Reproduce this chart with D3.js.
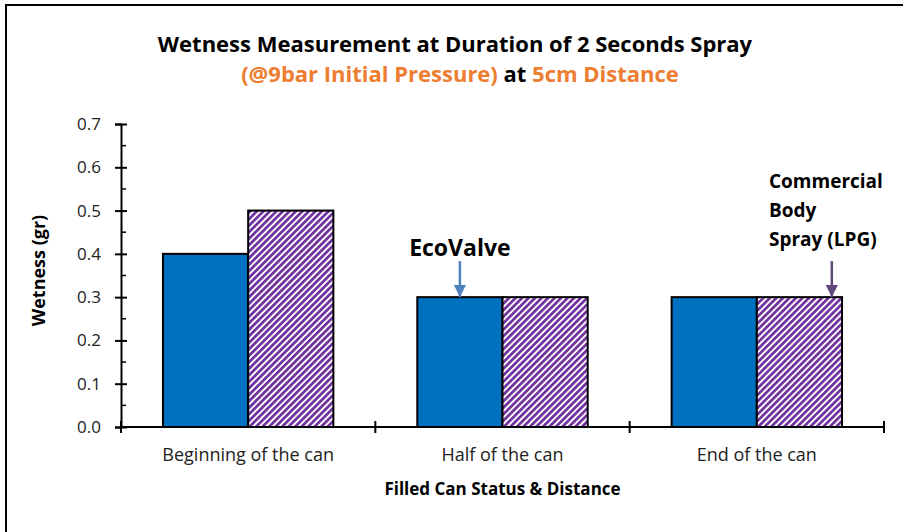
<!DOCTYPE html>
<html>
<head>
<meta charset="utf-8">
<script src="https://cdn.jsdelivr.net/npm/d3@7"></script>
<style>
  body { margin: 0; background: #fff; }
  svg text { font-family: "Open Sans", sans-serif; }
</style>
</head>
<body>
<div id="chart"></div>
<script>
// chart data
const categories = ["Beginning of the can", "Half of the can", "End of the can"]
const seriesNames = ["EcoValve", "Commercial Body Spray (LPG)"]
const ecoValve = [0.4, 0.3, 0.3]
const commercial = [0.5, 0.3, 0.3]
const yTicks = [0, 0.1, 0.2, 0.3, 0.4, 0.5, 0.6, 0.7]

const width = 903
const height = 532
const margin = {top: 124, right: 19, bottom: 105, left: 121}
const plotW = width - margin.left - margin.right
const plotH = height - margin.top - margin.bottom

const blue = "#0070C0"
const purple = "#7030A0"
const orange = "#ED7D31"

const svg = d3.select("#chart").append("svg")
    .attr("width", width)
    .attr("height", height)

// stripes for the commercial bars
const pat = svg.append("defs").append("pattern")
    .attr("id", "stripes")
    .attr("patternUnits", "userSpaceOnUse")
    .attr("width", 4.6)
    .attr("height", 4.6)
    .attr("patternTransform", "rotate(45)")
pat.append("rect").attr("width", 4.6).attr("height", 4.6).attr("fill", "#fff")
pat.append("rect").attr("width", 2.7).attr("height", 4.6).attr("fill", purple)

// outer frame
svg.append("rect")
    .attr("x", 6).attr("y", 5)
    .attr("width", width + 10).attr("height", height + 10)
    .attr("fill", "none")
    .attr("stroke", "#000")
    .attr("stroke-width", 2)

// title
svg.append("text")
    .attr("x", 455).attr("y", 52)
    .attr("text-anchor", "middle")
    .attr("font-size", 22)
    .attr("font-weight", "bold")
    .text("Wetness Measurement at Duration of 2 Seconds Spray")
const sub = svg.append("text")
    .attr("x", 460).attr("y", 82)
    .attr("text-anchor", "middle")
    .attr("font-size", 22)
    .attr("font-weight", "bold")
sub.append("tspan").attr("fill", orange).text("(@9bar Initial Pressure)")
sub.append("tspan").attr("fill", "#000").text(" at ")
sub.append("tspan").attr("fill", orange).text("5cm Distance")

const g = svg.append("g")
    .attr("transform", "translate(" + margin.left + "," + margin.top + ")")

const x0 = d3.scaleBand()
    .domain(categories)
    .range([0, plotW])
const inner = x0.bandwidth() * 0.165
const x1 = d3.scaleBand()
    .domain(seriesNames)
    .range([inner, x0.bandwidth() - inner])
const y = d3.scaleLinear()
    .domain([0, 0.7])
    .range([plotH, 0])

// bars
const rows = categories.map((c, i) => ({cat: c, values: [ecoValve[i], commercial[i]]}))
const groups = g.selectAll("g.grp")
    .data(rows)
    .enter()
    .append("g")
    .attr("class", "grp")
    .attr("transform", d => "translate(" + x0(d.cat) + ",0)")
groups.selectAll("rect")
    .data(d => d.values.map((v, j) => ({name: seriesNames[j], v: v})))
    .enter()
    .append("rect")
    .attr("x", d => x1(d.name))
    .attr("y", d => y(d.v))
    .attr("width", x1.bandwidth())
    .attr("height", d => plotH - y(d.v))
    .attr("fill", (d, j) => j === 0 ? blue : "url(#stripes)")
    .attr("stroke", "#000")
    .attr("stroke-width", 2)

// y axis: major ticks crossing the line, minor ticks inside
const yAxis = g.append("g")
    .call(d3.axisLeft(y).tickValues(yTicks).tickFormat(d3.format(".1f")).tickSize(6).tickPadding(14))
yAxis.select(".domain").attr("stroke", "#000").attr("stroke-width", 2)
yAxis.selectAll(".tick line").attr("x2", -6).attr("x1", 6).attr("stroke-width", 2)
yAxis.selectAll(".tick text")
    .attr("font-size", 17)
    .attr("fill", "#222")
g.append("g").selectAll("line")
    .data(d3.range(0.05, 0.7, 0.1))
    .enter()
    .append("line")
    .attr("x1", 0).attr("x2", 5)
    .attr("y1", d => y(d)).attr("y2", d => y(d))
    .attr("stroke", "#000").attr("stroke-width", 1.5)

// x axis with ticks at group boundaries
const xAxis = g.append("g")
    .attr("transform", "translate(0," + plotH + ")")
xAxis.append("line")
    .attr("x1", 0).attr("x2", plotW)
    .attr("stroke", "#000").attr("stroke-width", 2)
const bounds = categories.map(c => x0(c)).concat([plotW])
xAxis.selectAll("line.tk")
    .data(bounds)
    .enter()
    .append("line")
    .attr("class", "tk")
    .attr("x1", d => d).attr("x2", d => d)
    .attr("y1", -6).attr("y2", 6)
    .attr("stroke", "#000").attr("stroke-width", 2)
xAxis.selectAll("text")
    .data(categories)
    .enter()
    .append("text")
    .attr("x", d => x0(d) + x0.bandwidth() / 2)
    .attr("y", 34)
    .attr("text-anchor", "middle")
    .attr("font-size", 18)
    .attr("fill", "#222")
    .text(d => d)

// axis titles
svg.append("text")
    .attr("x", margin.left + plotW / 2).attr("y", 495)
    .attr("text-anchor", "middle")
    .attr("font-size", 17)
    .attr("font-weight", "bold")
    .text("Filled Can Status & Distance")
svg.append("text")
    .attr("transform", "translate(45," + (margin.top + plotH / 2 - 5) + ") rotate(-90)")
    .attr("text-anchor", "middle")
    .attr("font-size", 18)
    .attr("font-weight", "bold")
    .text("Wetness (gr)")

// annotations with arrows
const defs = svg.select("defs")
function marker(id, color) {
    defs.append("marker")
        .attr("id", id)
        .attr("viewBox", "0 0 10 10")
        .attr("refX", 10).attr("refY", 5)
        .attr("markerWidth", 5).attr("markerHeight", 5)
        .attr("markerUnits", "strokeWidth")
        .attr("orient", "auto")
        .append("path")
        .attr("d", "M0,0L10,5L0,10Z")
        .attr("fill", color)
}
marker("arrBlue", "#4F81BD")
marker("arrPurple", "#5F497A")

const ecoX = margin.left + x0(categories[1]) + x1(seriesNames[0]) + x1.bandwidth() / 2
const ecoY = margin.top + y(ecoValve[1])
svg.append("line")
    .attr("x1", ecoX).attr("x2", ecoX)
    .attr("y1", ecoY - 36).attr("y2", ecoY)
    .attr("stroke", "#4F81BD").attr("stroke-width", 2.5)
    .attr("marker-end", "url(#arrBlue)")
svg.append("text")
    .attr("x", ecoX).attr("y", ecoY - 41)
    .attr("text-anchor", "middle")
    .attr("font-size", 23)
    .attr("font-weight", "bold")
    .text(seriesNames[0])

const comX = margin.left + x0(categories[2]) + x1(seriesNames[1]) + x1.bandwidth() * 0.88
const comY = margin.top + y(commercial[2])
svg.append("line")
    .attr("x1", comX).attr("x2", comX)
    .attr("y1", comY - 36).attr("y2", comY)
    .attr("stroke", "#5F497A").attr("stroke-width", 2.5)
    .attr("marker-end", "url(#arrPurple)")
const lbl = svg.append("text")
    .attr("x", 769).attr("y", 188)
    .attr("font-size", 19)
    .attr("font-weight", "bold")
;["Commercial", "Body", "Spray (LPG)"].forEach((t, i) => {
    lbl.append("tspan").attr("x", 769).attr("dy", i === 0 ? 0 : 29).text(t)
})
</script>
</body>
</html>
